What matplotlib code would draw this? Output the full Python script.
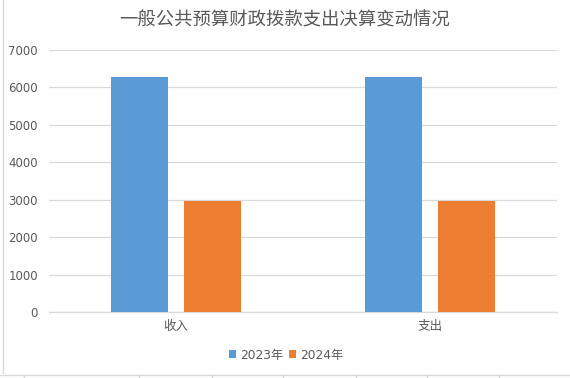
import matplotlib
matplotlib.use("Agg")
import matplotlib.pyplot as plt
from matplotlib.lines import Line2D
from matplotlib.patches import Patch
import numpy as np

title = "一般公共预算财政拨款支出决算变动情况"
categories = ["收入", "支出"]
series_names = ["2023年", "2024年"]
values_2023 = [6280, 6280]
values_2024 = [2975, 2975]
colors = ["#5b9bd5", "#ed7d31"]
yticks = [0, 1000, 2000, 3000, 4000, 5000, 6000, 7000]

W, H = 570, 378
fig = plt.figure(figsize=(W / 100, H / 100), dpi=100)
ax = fig.add_axes([49 / W, 1 - 312 / H, (557 - 49) / W, (312 - 50) / H])

x = np.arange(len(categories))
bw = 0.224
off = 0.142
ax.bar(x - off, values_2023, bw, color=colors[0], zorder=3)
ax.bar(x + off, values_2024, bw, color=colors[1], zorder=3)

ax.set_xlim(-0.5, len(categories) - 0.5)
ax.set_ylim(0, 7000)
ax.set_yticks(yticks)
ax.set_yticklabels([str(v) for v in yticks], fontsize=8.5, color="#595959",
                   family="DejaVu Sans")
ax.set_xticks(x)
ax.set_xticklabels(categories, fontsize=9, color="#595959",
                   family=["Noto Sans CJK SC", "DejaVu Sans"])
ax.tick_params(axis="both", length=0)
ax.tick_params(axis="y", pad=8)
ax.tick_params(axis="x", pad=6)
ax.grid(axis="y", color="#d9d9d9", linewidth=0.9, zorder=0)
for s in ["top", "right", "left"]:
    ax.spines[s].set_visible(False)
ax.spines["bottom"].set_color("#d9d9d9")
ax.spines["bottom"].set_linewidth(0.9)

fig.text(0.5, 1 - 20 / H, title, ha="center", va="center", fontsize=13.2,
         color="#595959", family=["Noto Sans CJK SC", "DejaVu Sans"],
         fontweight="light")

handles = [Patch(facecolor=c, edgecolor="none") for c in colors]
fig.legend(handles, series_names, loc="center", bbox_to_anchor=(286 / W, 1 - 355 / H),
           ncol=2, frameon=False, handlelength=0.6, handleheight=0.6,
           handletextpad=0.3, columnspacing=0.5,
           prop={"family": ["DejaVu Sans", "Noto Sans CJK SC"], "size": 8.8},
           labelcolor="#595959")

# outer frame decorations
lc = "#d9d9d9"
fig.add_artist(Line2D([2.5 / W, 2.5 / W], [1 - 373 / H, 1.0], color=lc, linewidth=1))
fig.add_artist(Line2D([0, 1], [1 - 375 / H, 1 - 375 / H], color=lc, linewidth=1))
for tx in [24, 139, 212, 283, 356, 427, 499]:
    fig.add_artist(Line2D([tx / W, tx / W], [0, 1 - 375 / H], color=lc, linewidth=1))

fig.savefig("out.png", dpi=100)
